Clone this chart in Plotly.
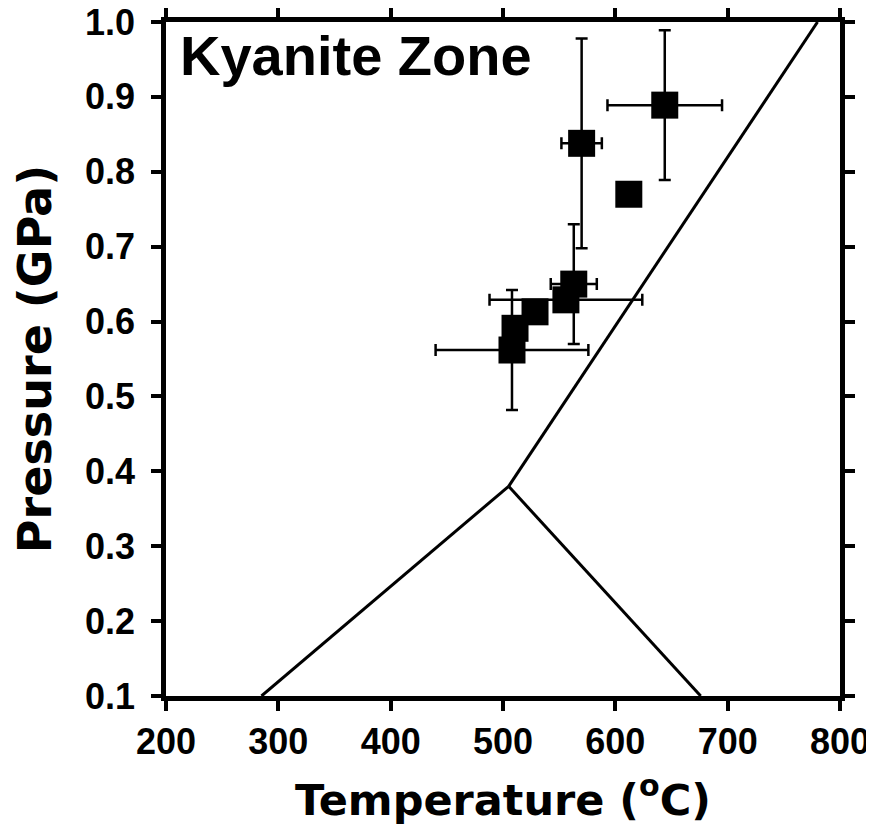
import plotly.graph_objects as go

# Phase boundaries (Al2SiO5), Temperature (°C) vs Pressure (GPa)
ky_and_T = [285, 505]
ky_and_P = [0.1, 0.38]
and_sil_T = [505, 676]
and_sil_P = [0.38, 0.1]
ky_sil_T = [505, 780]
ky_sil_P = [0.38, 1.0]

# Samples
T = [570, 644, 612, 563, 556, 528.5, 510.7, 508]
P = [0.838, 0.889, 0.770, 0.650, 0.629, 0.613, 0.591, 0.562]
T_err = [18, 51, 0, 20.5, 68, 0, 0, 68]
P_err = [0.14, 0.10, 0, 0.08, 0, 0, 0, 0.08]

x_ticks = [200, 300, 400, 500, 600, 700, 800]
y_ticks = [0.1, 0.2, 0.3, 0.4, 0.5, 0.6, 0.7, 0.8, 0.9, 1.0]
y_ticklabels = ["0.1", "0.2", "0.3", "0.4", "0.5", "0.6", "0.7", "0.8", "0.9", "1.0"]

fig = go.Figure()
for tx, py in [(ky_and_T, ky_and_P), (and_sil_T, and_sil_P), (ky_sil_T, ky_sil_P)]:
    fig.add_trace(go.Scatter(x=tx, y=py, mode="lines",
                             line=dict(color="black", width=3),
                             hoverinfo="skip"))

fig.add_trace(go.Scatter(
    x=T, y=P, mode="markers",
    marker=dict(symbol="square", size=27, color="black"),
    error_x=dict(type="data", array=T_err, color="black", thickness=2.5, width=6),
    error_y=dict(type="data", array=P_err, color="black", thickness=2.5, width=6),
))

axis_common = dict(showline=True, linewidth=4.5, linecolor="black", mirror="ticks",
                   ticks="outside", ticklen=10, tickwidth=4, tickcolor="black",
                   showgrid=False, zeroline=False, automargin=False,
                   ticklabeloverflow="allow")

fig.update_xaxes(range=[200, 800], tickvals=x_ticks, **axis_common,
                 tickfont=dict(family="Liberation Sans", size=36, color="black", weight="bold"),
                 title=dict(text="Temperature (<sup>o</sup>C)", standoff=25,
                            font=dict(family="DejaVu Sans", size=43, color="black", weight="bold")))
fig.update_yaxes(range=[0.1, 1.0], tickvals=y_ticks, ticktext=y_ticklabels, **axis_common,
                 ticklabelstandoff=9,
                 tickfont=dict(family="Liberation Sans", size=36, color="black", weight="bold"),
                 title=dict(text="Pressure (GPa)", standoff=40,
                            font=dict(family="DejaVu Sans", size=46, color="black", weight="bold")))

fig.add_annotation(text="Kyanite Zone", xref="paper", yref="paper",
                   x=0.018, y=0.95, xanchor="left", yanchor="middle", showarrow=False,
                   font=dict(family="Liberation Sans", size=56, color="black", weight="bold"))

# page body adds an 8px offset, so the figure is sized to fit inside the window
fig.update_layout(width=866, height=827, margin=dict(l=158, r=34, t=14, b=139),
                  plot_bgcolor="white", paper_bgcolor="white", showlegend=False)

fig.write_html("out.html")
